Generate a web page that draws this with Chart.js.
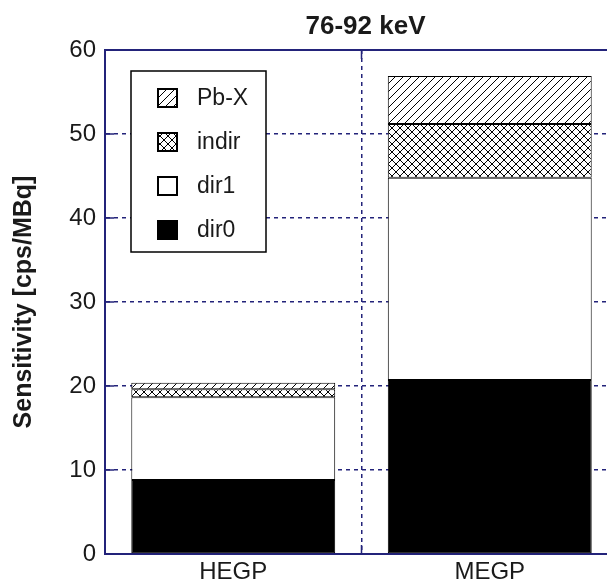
<!DOCTYPE html>
<html>
<head>
<meta charset="utf-8">
<script src="https://cdn.jsdelivr.net/npm/chart.js@4"></script>
<style>
    html, body { margin: 0; padding: 0; background: #fff; overflow: hidden; }
    #marco { width: 607px; height: 588px; overflow: hidden; }
</style>
</head>
<body>
<div id="marco"><canvas id="grafico" width="618" height="588"></canvas></div>
<script>
// Datos (cps/MBq), apilados de abajo a arriba
const categorias = ['HEGP', 'MEGP'];
const dir0 = [8.8, 20.7];
const dir1 = [9.85, 24.1];
const indir = [0.95, 6.4];
const pbX = [0.8, 5.7];
const ticksY = [0, 10, 20, 30, 40, 50, 60];
const titulo = '76-92 keV';

const azul = '#23237a';
const fuente = 'Arial, "Liberation Sans", sans-serif';
const canvas = document.getElementById('grafico');
const ctx = canvas.getContext('2d');

// Tramas para Pb-X (diagonal) e indir (cuadriculado)
function crearTrama(cruzada) {
    const c = document.createElement('canvas');
    c.width = 8; c.height = 8;
    const g = c.getContext('2d');
    g.fillStyle = '#fff';
    g.fillRect(0, 0, 8, 8);
    g.strokeStyle = '#000';
    g.lineWidth = 1;
    g.beginPath();
    g.moveTo(0, 8); g.lineTo(8, 0);
    g.moveTo(-1, 1); g.lineTo(1, -1);
    g.moveTo(7, 9); g.lineTo(9, 7);
    if (cruzada) {
        g.moveTo(0, 0); g.lineTo(8, 8);
        g.moveTo(-1, 7); g.lineTo(1, 9);
        g.moveTo(7, -1); g.lineTo(9, 1);
    }
    g.stroke();
    return ctx.createPattern(c, 'repeat');
}
const tramaDiagonal = crearTrama(false);
const tramaCruzada = crearTrama(true);

// Leyenda dentro del área del gráfico
const leyenda = {
    id: 'leyenda',
    afterDatasetsDraw(chart) {
        const c = chart.ctx;
        const area = chart.chartArea;
        const x = area.left + 26, y = area.top + 21, w = 135, h = 181;
        c.save();
        c.fillStyle = '#fff';
        c.fillRect(x, y, w, h);
        c.strokeStyle = '#000';
        c.lineWidth = 1.5;
        c.strokeRect(x, y, w, h);
        const ds = chart.data.datasets.slice().reverse();
        ds.forEach((d, i) => {
            const cy = y + 27 + i * 44;
            c.fillStyle = d.backgroundColor;
            c.fillRect(x + 27, cy - 9, 19, 18);
            c.lineWidth = 2;
            c.strokeStyle = '#000';
            c.strokeRect(x + 27, cy - 9, 19, 18);
            c.fillStyle = '#1a1a1a';
            c.font = '23px ' + fuente;
            c.textBaseline = 'middle';
            c.textAlign = 'left';
            c.fillText(d.label, x + 66, cy + 1);
        });
        c.restore();
    }
};

// Título centrado sobre el área, marco superior y marcas hacia dentro
const marco = {
    id: 'marco',
    afterDraw(chart) {
        const c = chart.ctx;
        const area = chart.chartArea;
        const sy = chart.scales.y;
        c.save();
        c.fillStyle = '#1a1a1a';
        c.font = 'bold 26px ' + fuente;
        c.textAlign = 'center';
        c.textBaseline = 'middle';
        c.fillText(titulo, (area.left + area.right) / 2 + 4, 27);

        c.strokeStyle = azul;
        c.lineWidth = 2;
        c.beginPath();
        c.moveTo(area.left, area.top);
        c.lineTo(area.right, area.top);
        c.stroke();
        c.lineWidth = 1.5;
        c.beginPath();
        ticksY.forEach(v => {
            const py = sy.getPixelForValue(v);
            c.moveTo(area.left, py);
            c.lineTo(area.left + 9, py);
        });
        const xm = (area.left + area.right) / 2;
        c.moveTo(xm, area.top);
        c.lineTo(xm, area.top + 9);
        c.moveTo(xm, area.bottom);
        c.lineTo(xm, area.bottom - 9);
        c.stroke();
        c.restore();
    }
};

new Chart(ctx, {
    type: 'bar',
    data: {
        labels: categorias,
        datasets: [
            { label: 'dir0', data: dir0, backgroundColor: '#000' },
            { label: 'dir1', data: dir1, backgroundColor: '#fff' },
            { label: 'indir', data: indir, backgroundColor: tramaCruzada },
            { label: 'Pb-X', data: pbX, backgroundColor: tramaDiagonal }
        ].map(d => Object.assign(d, {
            borderColor: '#000',
            borderWidth: 1,
            borderSkipped: false,
            barPercentage: 0.795,
            categoryPercentage: 1
        }))
    },
    options: {
        responsive: false,
        animation: false,
        devicePixelRatio: 1,
        layout: { padding: { left: 0, right: 0, top: 50, bottom: 0 } },
        plugins: {
            legend: { display: false },
            tooltip: { enabled: false },
            title: { display: false }
        },
        scales: {
            x: {
                stacked: true,
                offset: true,
                grid: {
                    offset: true,
                    drawTicks: false,
                    color: c => c.index === 0 ? 'rgba(0,0,0,0)' : azul,
                    lineWidth: 1.5
                },
                border: { display: true, color: azul, width: 2, dash: [4, 4] },
                ticks: { color: '#1a1a1a', padding: 4, font: { family: fuente, size: 24 } },
                afterFit: s => { s.height = 34; }
            },
            y: {
                stacked: true,
                min: 0,
                max: 60,
                afterBuildTicks: s => { s.ticks = ticksY.map(v => ({ value: v })); },
                grid: {
                    drawTicks: false,
                    color: c => (c.tick.value === 0 || c.tick.value === 60) ? 'rgba(0,0,0,0)' : azul,
                    lineWidth: 1.5
                },
                border: { display: true, color: azul, width: 2, dash: [4, 4] },
                ticks: { color: '#1a1a1a', padding: 9, font: { family: fuente, size: 24 } },
                title: {
                    display: true,
                    text: 'Sensitivity [cps/MBq]',
                    color: '#1a1a1a',
                    font: { family: fuente, size: 25, weight: 'bold' },
                    padding: { top: 9, bottom: 0 }
                },
                afterFit: s => { s.width = 105; }
            }
        }
    },
    plugins: [leyenda, marco]
});
</script>
</body>
</html>
